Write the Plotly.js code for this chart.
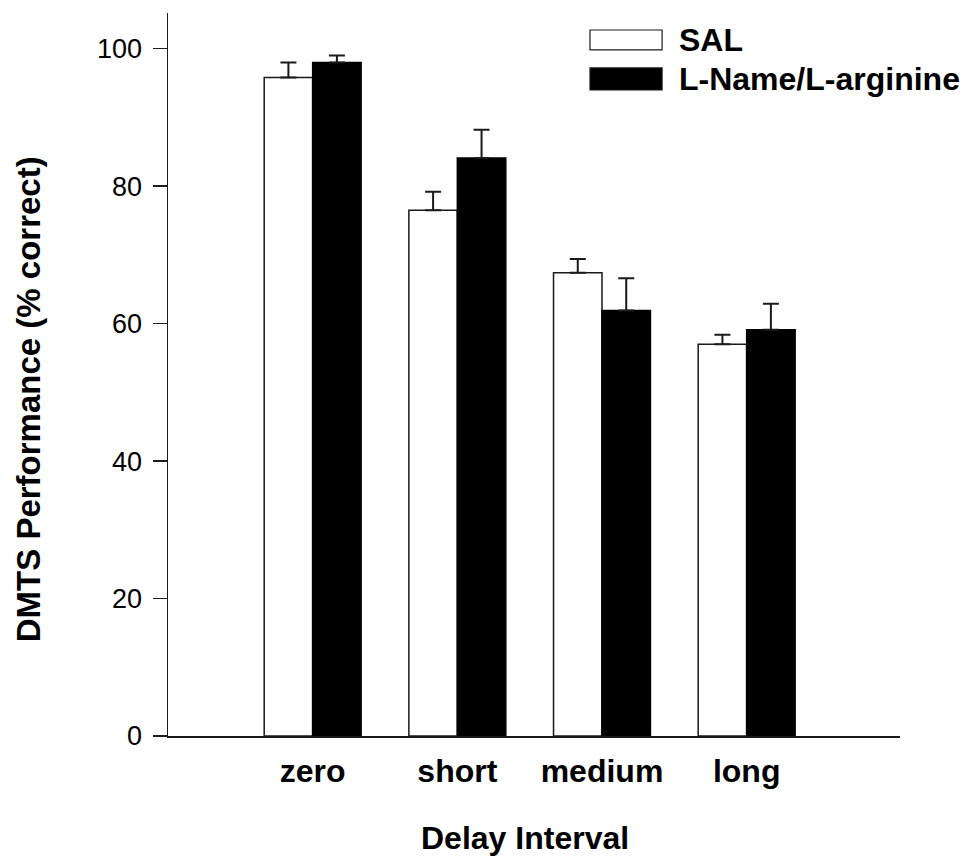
<!DOCTYPE html>
<html>
<head>
<meta charset="utf-8">
<script src="https://cdn.plot.ly/plotly-3.0.1.min.js"></script>
<style>html,body{margin:0;padding:0;background:#fff;}#chart{width:963px;height:856px;}</style>
</head>
<body>
<div id="chart"></div>
<script>
const categories = ['zero', 'short', 'medium', 'long'];
const seriesNames = ['SAL', 'L-Name/L-arginine'];
const salValues = [95.8, 76.5, 67.4, 57.0];
const salErrors = [2.2, 2.7, 2.0, 1.4];
const lnameValues = [98.0, 84.1, 61.9, 59.1];
const lnameErrors = [1.0, 4.1, 4.7, 3.8];
const yTickValues = [0, 20, 40, 60, 80, 100];
const xTitle = 'Delay Interval';
const yTitle = 'DMTS Performance (% correct)';

const FONT = 'Liberation Sans, Arial, Helvetica, sans-serif';
const INK = '#1a1a1a';

function zeros(a) { return a.map(() => 0); }

const traces = [
  {
    type: 'bar', name: seriesNames[0], x: categories, y: salValues,
    marker: { color: '#ffffff', line: { color: INK, width: 1.5 } },
    error_y: { type: 'data', symmetric: false, array: salErrors, arrayminus: zeros(salErrors), color: INK, thickness: 2, width: 8 },
    showlegend: false, hoverinfo: 'skip'
  },
  {
    type: 'bar', name: seriesNames[1], x: categories, y: lnameValues,
    marker: { color: '#000000', line: { color: '#000000', width: 1.5 } },
    error_y: { type: 'data', symmetric: false, array: lnameErrors, arrayminus: zeros(lnameErrors), color: INK, thickness: 2, width: 8 },
    showlegend: false, hoverinfo: 'skip'
  }
];

// legend drawn as boxes + labels in paper coordinates
const legendBoxes = [
  { x0: 0.5765, x1: 0.675, y0: 0.949, y1: 0.9765, fill: '#ffffff' },
  { x0: 0.5765, x1: 0.675, y0: 0.8935, y1: 0.9240, fill: '#000000' }
];
const shapes = legendBoxes.map(b => ({
  type: 'rect', xref: 'paper', yref: 'paper', x0: b.x0, x1: b.x1, y0: b.y0, y1: b.y1,
  fillcolor: b.fill, line: { color: INK, width: 1.2 }
}));
const annotations = legendBoxes.map((b, i) => ({
  xref: 'paper', yref: 'paper', x: 0.695, y: (b.y0 + b.y1) / 2,
  xanchor: 'left', yanchor: 'middle', showarrow: false,
  text: seriesNames[i], font: { family: FONT, size: 32, color: '#000', weight: 'bold' }
}));
// axis titles
annotations.push({
  xref: 'paper', yref: 'paper', x: 0.4875, y: -0.141, xanchor: 'center', yanchor: 'middle',
  showarrow: false, text: xTitle, font: { family: FONT, size: 32, color: '#000', weight: 'bold' }
});
annotations.push({
  xref: 'paper', yref: 'paper', x: -0.191, y: 0.466, xanchor: 'center', yanchor: 'middle',
  textangle: -90, showarrow: false, text: yTitle, font: { family: FONT, size: 33, color: '#000', weight: 'bold' }
});

const layout = {
  width: 963, height: 856,
  margin: { l: 168, r: 63, t: 13, b: 120 },
  paper_bgcolor: '#ffffff', plot_bgcolor: '#ffffff',
  barmode: 'group', bargap: 0.33, bargroupgap: 0,
  showlegend: false,
  font: { family: FONT, color: '#000' },
  xaxis: {
    type: 'category', range: [-1.0, 4.06],
    showline: true, linecolor: INK, linewidth: 1.5,
    ticks: '', showgrid: false, zeroline: false,
    tickfont: { family: FONT, size: 32, color: '#000', weight: 'bold' },
    ticklabelstandoff: 6,
    automargin: false
  },
  yaxis: {
    range: [0, 105.2], tickvals: yTickValues,
    showline: true, linecolor: INK, linewidth: 1.5,
    ticks: 'outside', ticklen: 14, tickwidth: 1.5, tickcolor: INK,
    showgrid: false, zeroline: false,
    tickfont: { family: FONT, size: 27, color: '#000' },
    ticklabelstandoff: 5,
    automargin: false
  },
  shapes: shapes,
  annotations: annotations
};

Plotly.newPlot('chart', traces, layout, { displayModeBar: false, staticPlot: true });
</script>
</body>
</html>
